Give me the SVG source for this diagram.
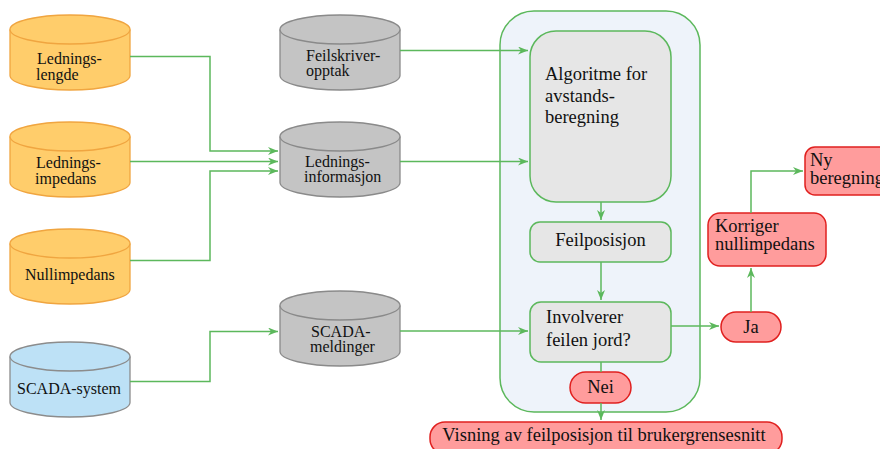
<svg xmlns="http://www.w3.org/2000/svg" width="880" height="449" viewBox="0 0 880 449">
<style>
text{font-family:"Liberation Serif","Times New Roman",serif;fill:#111}
.s16{font-size:16px}
.s18{font-size:18.5px}
.orange{fill:#ffcd6b;stroke:#f0a540;stroke-width:1.3}
.blue{fill:#bde1f6;stroke:#8c8c8c;stroke-width:1.3}
.gray{fill:#c4c4c4;stroke:#8a8a8a;stroke-width:1.3}
.box{fill:#e6e6e6;stroke:#5cb85c;stroke-width:1.5}
.red{fill:#ff9c9c;stroke:#e0201f;stroke-width:1.5}
.cont{fill:#eef3fa;stroke:#5cb85c;stroke-width:1.5}
.c{fill:none;stroke:#5cb85c;stroke-width:1.5}
</style>
<defs>
<marker id="arr" viewBox="0 0 10 8" refX="10" refY="4" markerWidth="10" markerHeight="8" markerUnits="userSpaceOnUse" orient="auto">
<path d="M0,0 L10,4 L0,8 L3,4 Z" fill="#5cb85c"/>
</marker>
</defs>

<g id="container"><rect class="cont" x="500" y="11" width="200" height="401" rx="34"/></g>

<g id="ledningslengde">
<path class="orange" d="M10,29.5 V75.5 A60,14.5 0 0 0 130,75.5 V29.5"/>
<ellipse class="orange" cx="70" cy="29.5" rx="60" ry="14.5"/>
<text class="s16" x="37" y="64">Lednings-</text><text class="s16" x="36" y="80">lengde</text>
</g>
<g id="ledningsimpedans">
<path class="orange" d="M10,136.5 V182.5 A60,14.5 0 0 0 130,182.5 V136.5"/>
<ellipse class="orange" cx="70" cy="136.5" rx="60" ry="14.5"/>
<text class="s16" x="36" y="168">Lednings-</text><text class="s16" x="35" y="184">impedans</text>
</g>
<g id="nullimpedans">
<path class="orange" d="M10,243.5 V289.5 A60,14.5 0 0 0 130,289.5 V243.5"/>
<ellipse class="orange" cx="70" cy="243.5" rx="60" ry="14.5"/>
<text class="s16" x="25" y="280">Nullimpedans</text>
</g>
<g id="scada-system">
<path class="blue" d="M10,356.5 V402.5 A60,14.5 0 0 0 130,402.5 V356.5"/>
<ellipse class="blue" cx="70" cy="356.5" rx="60" ry="14.5"/>
<text class="s16" x="17" y="394">SCADA-system</text>
</g>

<g id="feilskriveropptak">
<path class="gray" d="M280,29.5 V75.5 A60,14.5 0 0 0 400,75.5 V29.5"/>
<ellipse class="gray" cx="340" cy="29.5" rx="60" ry="14.5"/>
<text class="s16" x="306" y="61">Feilskriver-</text><text class="s16" x="306" y="76">opptak</text>
</g>
<g id="ledningsinformasjon">
<path class="gray" d="M280,136.5 V182.5 A60,14.5 0 0 0 400,182.5 V136.5"/>
<ellipse class="gray" cx="340" cy="136.5" rx="60" ry="14.5"/>
<text class="s16" x="305" y="167">Lednings-</text><text class="s16" x="304" y="182">informasjon</text>
</g>
<g id="scada-meldinger">
<path class="gray" d="M280,305.5 V351.5 A60,14.5 0 0 0 400,351.5 V305.5"/>
<ellipse class="gray" cx="340" cy="305.5" rx="60" ry="14.5"/>
<text class="s16" x="311" y="337">SCADA-</text><text class="s16" x="310" y="352">meldinger</text>
</g>

<g id="algoritme">
<rect class="box" x="530" y="31" width="141" height="171" rx="26"/>
<text class="s18" x="545" y="80">Algoritme for</text>
<text class="s18" x="545" y="102">avstands-</text>
<text class="s18" x="545" y="123">beregning</text>
</g>
<g id="feilposisjon">
<rect class="box" x="530" y="222" width="141" height="40" rx="10"/>
<text class="s18" x="600.5" y="246" text-anchor="middle">Feilposisjon</text>
</g>
<g id="involverer">
<rect class="box" x="530" y="302" width="141" height="60" rx="11"/>
<text class="s18" x="546" y="323">Involverer</text>
<text class="s18" x="546" y="346">feilen jord?</text>
</g>
<g id="nei">
<rect class="red" x="570" y="372" width="61" height="31" rx="15.5"/>
<text class="s18" x="600.5" y="393" text-anchor="middle">Nei</text>
</g>
<g id="visning">
<rect class="red" x="430" y="422" width="352" height="32" rx="15"/>
<text class="s18" x="604" y="441" text-anchor="middle">Visning av feilposisjon til brukergrensesnitt</text>
</g>
<g id="ja">
<rect class="red" x="721" y="312" width="60" height="30" rx="15"/>
<text class="s18" x="751" y="333" text-anchor="middle">Ja</text>
</g>
<g id="korriger">
<rect class="red" x="708" y="213" width="118" height="53" rx="12"/>
<text class="s18" x="715" y="232">Korriger</text>
<text class="s18" x="715" y="250">nullimpedans</text>
</g>
<g id="ny-beregning">
<rect class="red" x="805" y="147" width="90" height="48" rx="10"/>
<text class="s18" x="810" y="166">Ny</text>
<text class="s18" x="810" y="184">beregning</text>
</g>

<g id="connectors">
<path class="c" marker-end="url(#arr)" d="M130,56.5 H210 V151 H278"/>
<path class="c" marker-end="url(#arr)" d="M130,161.5 H278"/>
<path class="c" marker-end="url(#arr)" d="M130,260.5 H210 V171 H278"/>
<path class="c" marker-end="url(#arr)" d="M130,381.5 H210 V331.5 H278"/>
<path class="c" marker-end="url(#arr)" d="M400,50.5 H528"/>
<path class="c" marker-end="url(#arr)" d="M400,161.5 H528"/>
<path class="c" marker-end="url(#arr)" d="M400,331 H528"/>
<path class="c" marker-end="url(#arr)" d="M601,202 V220"/>
<path class="c" marker-end="url(#arr)" d="M601,262 V300"/>
<path class="c" d="M601,362 V372"/>
<path class="c" marker-end="url(#arr)" d="M601,403 V420"/>
<path class="c" marker-end="url(#arr)" d="M671,326 H719"/>
<path class="c" marker-end="url(#arr)" d="M751,312 V268"/>
<path class="c" marker-end="url(#arr)" d="M751,213 V171 H803"/>
</g>
</svg>
